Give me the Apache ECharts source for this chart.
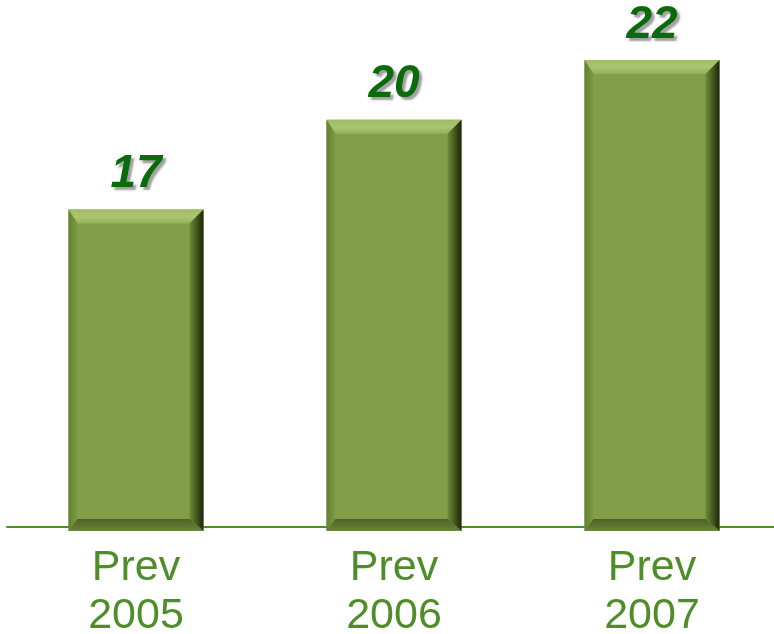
<!DOCTYPE html>
<html><head><meta charset="utf-8">
<script src="https://cdn.jsdelivr.net/npm/echarts@6/dist/echarts.min.js"></script>
<style>html,body{margin:0;padding:0;background:#fff}#c{width:774px;height:634px}</style>
</head><body><div id="c"></div>
<script>
const categories = ['Prev\n2005', 'Prev\n2006', 'Prev\n2007'];
const values = [17, 20, 22];
const yMin = 6.4, yMax = 24;

const chart = echarts.init(document.getElementById('c'));
function lg(x1,y1,x2,y2,stops){return new echarts.graphic.LinearGradient(x1,y1,x2,y2,stops.map((c,i)=>({offset:i/(stops.length-1),color:c})));}

function renderItem(params, api) {
  const idx = api.value(0), v = api.value(1);
  const top = api.coord([idx, v]);
  const bot = api.coord([idx, yMin]);
  const w = 135;
  const x0 = top[0] - w/2, x1 = top[0] + w/2;
  const y0 = top[1], y1 = bot[1] + 4;
  const bt = 14, bl = 9, br = 14, bb = 12;
  const children = [
    {type:'rect', shape:{x:x0,y:y0,width:w,height:y1-y0}, style:{fill:'#819f48'}},
    {type:'polygon', shape:{points:[[x0,y0],[x1,y0],[x1-br,y0+bt],[x0+bl,y0+bt]]}, style:{fill:lg(0,0,0,1,['#9fbc63','#a9c56f','#93b05a'])}},
    {type:'polygon', shape:{points:[[x0,y0],[x0+bl,y0+bt],[x0+bl,y1-bb],[x0,y1]]}, style:{fill:lg(0,0,1,0,['#62802f','#7d9b45'])}},
    {type:'polygon', shape:{points:[[x1,y0],[x1-br,y0+bt],[x1-br,y1-bb],[x1,y1]]}, style:{fill:lg(0,0,1,0,['#6f8a3a','#46591f','#1c2608'])}},
    {type:'polygon', shape:{points:[[x0,y1],[x0+bl,y1-bb],[x1-br,y1-bb],[x1,y1]]}, style:{fill:lg(0,0,0,1,['#4d6226','#6a843a'])}},
    {type:'text', x: top[0], y: y0 - 35, style:{text:String(v), fill:'#0b6a0b', font:'italic bold 46px "Liberation Sans", Arial, sans-serif', align:'center', verticalAlign:'middle', textShadowColor:'rgba(120,120,120,0.7)', textShadowOffsetX:3, textShadowOffsetY:3, textShadowBlur:2}}
  ];
  return {type:'group', children};
}

chart.setOption({
  animation:false,
  grid:{left:7, right:-7, top:0, bottom:107, outerBoundsMode:'none', containLabel:false},
  xAxis:{type:'category', data:categories,
    axisLine:{lineStyle:{color:'#4f8d28', width:2}}, axisTick:{show:false},
    axisLabel:{color:'#4f8d28', fontSize:43, lineHeight:48, margin:17, fontFamily:'"Liberation Sans", Arial, sans-serif'}},
  yAxis:{type:'value', min:yMin, max:yMax, show:false},
  series:[{type:'custom', renderItem, data: values.map((v,i)=>[i,v]), encode:{x:0,y:1}, z:3}]
});
</script></body></html>
